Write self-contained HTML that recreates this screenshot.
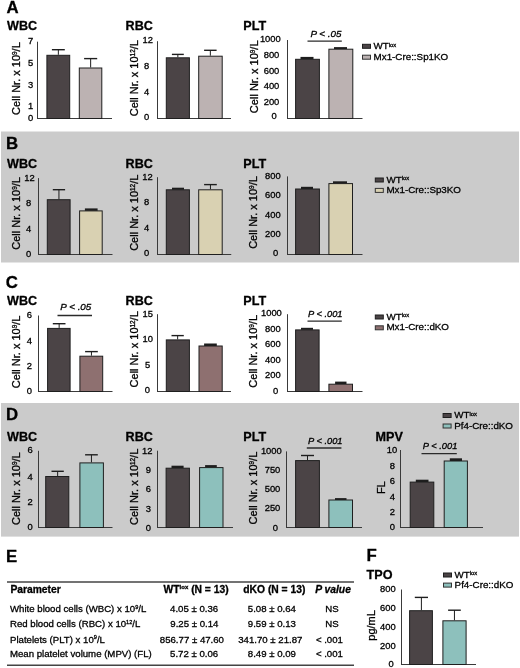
<!DOCTYPE html>
<html><head><meta charset="utf-8"><style>
html,body{margin:0;padding:0;background:#fff;}
svg{display:block;font-family:"Liberation Sans", sans-serif;will-change:transform;}
text{stroke:#000;stroke-width:0.3px;}
</style></head><body>
<svg width="520" height="668" viewBox="0 0 520 668">
<rect x="0" y="0" width="520" height="668" fill="#fff"/>
<rect x="1.00" y="131.50" width="518.00" height="131.00" fill="#cbcbcb"/>
<rect x="1.00" y="403.00" width="518.00" height="133.60" fill="#cbcbcb"/>
<text x="6.6" y="13.2" font-size="16.8" font-weight="bold" >A</text>
<text x="6.0" y="148.7" font-size="16.8" font-weight="bold" >B</text>
<text x="5.8" y="288.1" font-size="16.8" font-weight="bold" >C</text>
<text x="6.0" y="419.9" font-size="16.8" font-weight="bold" >D</text>
<text x="6.0" y="562.2" font-size="16.8" font-weight="bold" >E</text>
<text x="366.5" y="560.9" font-size="16.8" font-weight="bold" >F</text>
<text x="7.0" y="29.8" font-size="12.6" font-weight="bold" >WBC</text>
<text x="125.6" y="29.8" font-size="12.6" font-weight="bold" >RBC</text>
<text x="243.3" y="29.8" font-size="12.6" font-weight="bold" >PLT</text>
<line x1="37.5" y1="41.7" x2="37.5" y2="119.0" stroke="#3a3a3a" stroke-width="1"/>
<line x1="37.0" y1="118.5" x2="112" y2="118.5" stroke="#3a3a3a" stroke-width="1"/>
<text x="30.5" y="44.02" font-size="9.4" text-anchor="middle" >7</text>
<text x="30.5" y="65.72" font-size="9.4" text-anchor="middle" >5</text>
<text x="30.5" y="87.92" font-size="9.4" text-anchor="middle" >3</text>
<text x="30.5" y="109.17" font-size="9.4" text-anchor="middle" >1</text>
<text x="30.5" y="121.12" font-size="9.4" text-anchor="middle" >0</text>
<line x1="58.349999999999994" y1="49.7" x2="58.349999999999994" y2="54.8" stroke="#1e1e1e" stroke-width="1"/>
<line x1="51.9" y1="49.7" x2="64.8" y2="49.7" stroke="#1e1e1e" stroke-width="1.4"/>
<rect x="46.90" y="55.30" width="22.80" height="63.20" fill="#4b4446" stroke="#1e1e1e" stroke-width="1"/>
<line x1="90.65" y1="58.6" x2="90.65" y2="67.5" stroke="#1e1e1e" stroke-width="1"/>
<line x1="84.1" y1="58.6" x2="97.2" y2="58.6" stroke="#1e1e1e" stroke-width="1.4"/>
<rect x="79.30" y="68.00" width="22.50" height="50.50" fill="#bcb2b2" stroke="#1e1e1e" stroke-width="1"/>
<text transform="translate(20.30,78.55) rotate(-90)" font-size="11" text-anchor="middle">Cell Nr. x 10<tspan font-size="6.4" dy="-3.1">9</tspan><tspan dy="3.1">/L</tspan></text>
<line x1="157.5" y1="41.2" x2="157.5" y2="119.0" stroke="#3a3a3a" stroke-width="1"/>
<line x1="157.0" y1="118.5" x2="231" y2="118.5" stroke="#3a3a3a" stroke-width="1"/>
<text x="147.8" y="43.12" font-size="9.4" text-anchor="middle" >12</text>
<text x="146.6" y="68.72" font-size="9.4" text-anchor="middle" >8</text>
<text x="146.6" y="94.72" font-size="9.4" text-anchor="middle" >4</text>
<text x="146.6" y="119.62" font-size="9.4" text-anchor="middle" >0</text>
<line x1="177.85000000000002" y1="54.4" x2="177.85000000000002" y2="57.3" stroke="#1e1e1e" stroke-width="1"/>
<line x1="171.9" y1="54.4" x2="183.8" y2="54.4" stroke="#1e1e1e" stroke-width="1.4"/>
<rect x="166.30" y="57.80" width="23.10" height="60.70" fill="#4b4446" stroke="#1e1e1e" stroke-width="1"/>
<line x1="210.35" y1="50.3" x2="210.35" y2="55.7" stroke="#1e1e1e" stroke-width="1"/>
<line x1="204.1" y1="50.3" x2="216.6" y2="50.3" stroke="#1e1e1e" stroke-width="1.4"/>
<rect x="198.70" y="56.20" width="23.50" height="62.30" fill="#bcb2b2" stroke="#1e1e1e" stroke-width="1"/>
<text transform="translate(137.90,78.2) rotate(-90)" font-size="11" text-anchor="middle">Cell Nr. x 10<tspan font-size="6.4" dy="-3.1">12</tspan><tspan dy="3.1">/L</tspan></text>
<line x1="287.5" y1="40" x2="287.5" y2="119.0" stroke="#3a3a3a" stroke-width="1"/>
<line x1="287.0" y1="118.5" x2="362.5" y2="118.5" stroke="#3a3a3a" stroke-width="1"/>
<text x="270.35" y="42.12" font-size="9.4" text-anchor="middle" >1000</text>
<text x="271.5" y="57.62" font-size="9.4" text-anchor="middle" >800</text>
<text x="271.5" y="73.52" font-size="9.4" text-anchor="middle" >600</text>
<text x="271.5" y="89.27" font-size="9.4" text-anchor="middle" >400</text>
<text x="271.5" y="104.77" font-size="9.4" text-anchor="middle" >200</text>
<text x="274.2" y="119.32" font-size="9.4" text-anchor="middle" >0</text>
<rect x="300.50" y="56.90" width="13.00" height="2.40" fill="#1e1e1e"/>
<rect x="295.60" y="59.30" width="23.80" height="59.20" fill="#4b4446" stroke="#1e1e1e" stroke-width="1"/>
<rect x="334.00" y="47.10" width="13.00" height="2.10" fill="#1e1e1e"/>
<rect x="328.90" y="49.20" width="23.90" height="69.30" fill="#bcb2b2" stroke="#1e1e1e" stroke-width="1"/>
<text transform="translate(257.90,76.8) rotate(-90)" font-size="11" text-anchor="middle">Cell Nr. x 10<tspan font-size="6.4" dy="-3.1">9</tspan><tspan dy="3.1">/L</tspan></text>
<text x="310.4" y="37.4" font-size="9.8" font-style="italic" >P &lt; .05</text>
<line x1="307.5" y1="41.2" x2="341.8" y2="41.2" stroke="#2a2a2a" stroke-width="1.3"/>
<rect x="362.50" y="44.30" width="8.00" height="4.00" fill="#4b4446" stroke="#1e1e1e" stroke-width="1"/>
<rect x="362.50" y="55.20" width="8.00" height="4.00" fill="#bcb2b2" stroke="#333" stroke-width="1"/>
<text x="373.6" y="48.9" font-size="9.8" >WT<tspan font-size="5.8" dy="-2.2">lox</tspan></text>
<text x="373.6" y="59.800000000000004" font-size="9.8" >Mx1-Cre::Sp1KO</text>
<text x="7.0" y="167.5" font-size="12.6" font-weight="bold" >WBC</text>
<text x="125.6" y="167.5" font-size="12.6" font-weight="bold" >RBC</text>
<text x="243.3" y="167.5" font-size="12.6" font-weight="bold" >PLT</text>
<line x1="38.5" y1="178.1" x2="38.5" y2="255.0" stroke="#3a3a3a" stroke-width="1"/>
<line x1="38.0" y1="254.5" x2="112.5" y2="254.5" stroke="#3a3a3a" stroke-width="1"/>
<text x="29.45" y="180.82" font-size="9.4" text-anchor="middle" >12</text>
<text x="28.6" y="206.07" font-size="9.4" text-anchor="middle" >8</text>
<text x="28.6" y="231.67" font-size="9.4" text-anchor="middle" >4</text>
<text x="28.6" y="256.62" font-size="9.4" text-anchor="middle" >0</text>
<line x1="58.949999999999996" y1="189.7" x2="58.949999999999996" y2="199.2" stroke="#1e1e1e" stroke-width="1"/>
<line x1="52.8" y1="189.7" x2="65.1" y2="189.7" stroke="#1e1e1e" stroke-width="1.4"/>
<rect x="47.30" y="199.70" width="22.80" height="54.80" fill="#4b4446" stroke="#1e1e1e" stroke-width="1"/>
<rect x="84.90" y="208.40" width="12.70" height="2.50" fill="#1e1e1e"/>
<rect x="79.60" y="210.90" width="22.60" height="43.60" fill="#d9d1b2" stroke="#1e1e1e" stroke-width="1"/>
<text transform="translate(20.20,213.45) rotate(-90)" font-size="11" text-anchor="middle">Cell Nr. x 10<tspan font-size="6.4" dy="-3.1">9</tspan><tspan dy="3.1">/L</tspan></text>
<line x1="157.5" y1="177.2" x2="157.5" y2="255.0" stroke="#3a3a3a" stroke-width="1"/>
<line x1="157.0" y1="254.5" x2="231.25" y2="254.5" stroke="#3a3a3a" stroke-width="1"/>
<text x="147.45" y="179.87" font-size="9.4" text-anchor="middle" >12</text>
<text x="146.6" y="205.27" font-size="9.4" text-anchor="middle" >8</text>
<text x="146.6" y="231.22" font-size="9.4" text-anchor="middle" >4</text>
<text x="146.6" y="256.07" font-size="9.4" text-anchor="middle" >0</text>
<rect x="172.00" y="187.70" width="12.00" height="2.10" fill="#1e1e1e"/>
<rect x="166.30" y="189.80" width="23.10" height="64.70" fill="#4b4446" stroke="#1e1e1e" stroke-width="1"/>
<line x1="210.45" y1="184.6" x2="210.45" y2="189.3" stroke="#1e1e1e" stroke-width="1"/>
<line x1="204.1" y1="184.6" x2="216.8" y2="184.6" stroke="#1e1e1e" stroke-width="1.4"/>
<rect x="198.70" y="189.80" width="23.50" height="64.70" fill="#d9d1b2" stroke="#1e1e1e" stroke-width="1"/>
<text transform="translate(138.00,212.75) rotate(-90)" font-size="11" text-anchor="middle">Cell Nr. x 10<tspan font-size="6.4" dy="-3.1">12</tspan><tspan dy="3.1">/L</tspan></text>
<line x1="287.5" y1="176.4" x2="287.5" y2="255.0" stroke="#3a3a3a" stroke-width="1"/>
<line x1="287.0" y1="254.5" x2="362.5" y2="254.5" stroke="#3a3a3a" stroke-width="1"/>
<text x="272.85" y="178.52" font-size="9.4" text-anchor="middle" >800</text>
<text x="272.85" y="197.77" font-size="9.4" text-anchor="middle" >600</text>
<text x="272.85" y="217.62" font-size="9.4" text-anchor="middle" >400</text>
<text x="272.85" y="236.87" font-size="9.4" text-anchor="middle" >200</text>
<text x="275.7" y="256.07" font-size="9.4" text-anchor="middle" >0</text>
<rect x="301.00" y="186.80" width="12.00" height="2.20" fill="#1e1e1e"/>
<rect x="295.60" y="189.00" width="23.80" height="65.50" fill="#4b4446" stroke="#1e1e1e" stroke-width="1"/>
<rect x="333.00" y="181.30" width="14.00" height="2.30" fill="#1e1e1e"/>
<rect x="328.90" y="183.60" width="23.60" height="70.90" fill="#d9d1b2" stroke="#1e1e1e" stroke-width="1"/>
<text transform="translate(256.70,212.5) rotate(-90)" font-size="11" text-anchor="middle">Cell Nr. x 10<tspan font-size="6.4" dy="-3.1">9</tspan><tspan dy="3.1">/L</tspan></text>
<rect x="375.30" y="178.00" width="8.00" height="4.00" fill="#4b4446" stroke="#1e1e1e" stroke-width="1"/>
<rect x="375.30" y="188.40" width="8.00" height="4.00" fill="#d9d1b2" stroke="#333" stroke-width="1"/>
<text x="386.40000000000003" y="182.6" font-size="9.8" >WT<tspan font-size="5.8" dy="-2.2">lox</tspan></text>
<text x="386.40000000000003" y="193.0" font-size="9.8" >Mx1-Cre::Sp3KO</text>
<text x="7.0" y="304.6" font-size="12.6" font-weight="bold" >WBC</text>
<text x="125.6" y="304.6" font-size="12.6" font-weight="bold" >RBC</text>
<text x="243.3" y="304.6" font-size="12.6" font-weight="bold" >PLT</text>
<line x1="38.5" y1="315.5" x2="38.5" y2="392.0" stroke="#3a3a3a" stroke-width="1"/>
<line x1="38.0" y1="391.5" x2="112.5" y2="391.5" stroke="#3a3a3a" stroke-width="1"/>
<text x="29.4" y="317.82" font-size="9.4" text-anchor="middle" >6</text>
<text x="29.4" y="343.72" font-size="9.4" text-anchor="middle" >4</text>
<text x="29.4" y="369.02" font-size="9.4" text-anchor="middle" >2</text>
<text x="29.4" y="393.92" font-size="9.4" text-anchor="middle" >0</text>
<line x1="59.15" y1="323.7" x2="59.15" y2="327.9" stroke="#1e1e1e" stroke-width="1"/>
<line x1="52.8" y1="323.7" x2="65.5" y2="323.7" stroke="#1e1e1e" stroke-width="1.4"/>
<rect x="47.60" y="328.40" width="22.50" height="63.10" fill="#4b4446" stroke="#1e1e1e" stroke-width="1"/>
<line x1="91.44999999999999" y1="351.6" x2="91.44999999999999" y2="355.7" stroke="#1e1e1e" stroke-width="1"/>
<line x1="85.1" y1="351.6" x2="97.8" y2="351.6" stroke="#1e1e1e" stroke-width="1.4"/>
<rect x="79.90" y="356.20" width="22.80" height="35.30" fill="#8e7070" stroke="#1e1e1e" stroke-width="1"/>
<text transform="translate(20.30,351.85) rotate(-90)" font-size="11" text-anchor="middle">Cell Nr. x 10<tspan font-size="6.4" dy="-3.1">9</tspan><tspan dy="3.1">/L</tspan></text>
<text x="60.3" y="310.3" font-size="9.8" font-style="italic" >P &lt; .05</text>
<line x1="57.5" y1="315.5" x2="92.0" y2="315.5" stroke="#2a2a2a" stroke-width="1.3"/>
<line x1="157.5" y1="314.2" x2="157.5" y2="392.0" stroke="#3a3a3a" stroke-width="1"/>
<line x1="157.0" y1="391.5" x2="231" y2="391.5" stroke="#3a3a3a" stroke-width="1"/>
<text x="147.65" y="316.67" font-size="9.4" text-anchor="middle" >15</text>
<text x="147.65" y="342.47" font-size="9.4" text-anchor="middle" >10</text>
<text x="147.6" y="368.22" font-size="9.4" text-anchor="middle" >5</text>
<text x="147.4" y="393.27" font-size="9.4" text-anchor="middle" >0</text>
<line x1="177.65" y1="335.6" x2="177.65" y2="339.4" stroke="#1e1e1e" stroke-width="1"/>
<line x1="171.5" y1="335.6" x2="183.8" y2="335.6" stroke="#1e1e1e" stroke-width="1.4"/>
<rect x="166.30" y="339.90" width="23.10" height="51.60" fill="#4b4446" stroke="#1e1e1e" stroke-width="1"/>
<rect x="204.10" y="343.50" width="12.70" height="2.50" fill="#1e1e1e"/>
<rect x="199.00" y="346.00" width="23.20" height="45.50" fill="#8e7070" stroke="#1e1e1e" stroke-width="1"/>
<text transform="translate(138.00,349.3) rotate(-90)" font-size="11" text-anchor="middle">Cell Nr. x 10<tspan font-size="6.4" dy="-3.1">12</tspan><tspan dy="3.1">/L</tspan></text>
<line x1="287.5" y1="314.2" x2="287.5" y2="392.0" stroke="#3a3a3a" stroke-width="1"/>
<line x1="287.0" y1="391.5" x2="362.5" y2="391.5" stroke="#3a3a3a" stroke-width="1"/>
<text x="271.4" y="315.77" font-size="9.4" text-anchor="middle" >1000</text>
<text x="272.85" y="331.72" font-size="9.4" text-anchor="middle" >800</text>
<text x="272.85" y="346.92" font-size="9.4" text-anchor="middle" >600</text>
<text x="272.85" y="362.67" font-size="9.4" text-anchor="middle" >400</text>
<text x="272.85" y="378.47" font-size="9.4" text-anchor="middle" >200</text>
<text x="275.7" y="393.52" font-size="9.4" text-anchor="middle" >0</text>
<rect x="301.00" y="327.80" width="12.00" height="2.10" fill="#1e1e1e"/>
<rect x="295.60" y="329.90" width="23.50" height="61.60" fill="#4b4446" stroke="#1e1e1e" stroke-width="1"/>
<rect x="335.10" y="381.60" width="11.40" height="2.60" fill="#1e1e1e"/>
<rect x="328.90" y="384.20" width="23.60" height="7.30" fill="#8e7070" stroke="#1e1e1e" stroke-width="1"/>
<text transform="translate(257.20,351.3) rotate(-90)" font-size="11" text-anchor="middle">Cell Nr. x 10<tspan font-size="6.4" dy="-3.1">9</tspan><tspan dy="3.1">/L</tspan></text>
<text x="308.0" y="317.3" font-size="9.3" font-style="italic" >P &lt; .001</text>
<line x1="307.5" y1="321.2" x2="341.8" y2="321.2" stroke="#2a2a2a" stroke-width="1.3"/>
<rect x="375.30" y="315.00" width="8.00" height="4.00" fill="#4b4446" stroke="#1e1e1e" stroke-width="1"/>
<rect x="375.30" y="325.80" width="8.00" height="4.00" fill="#8e7070" stroke="#333" stroke-width="1"/>
<text x="386.40000000000003" y="319.6" font-size="9.8" >WT<tspan font-size="5.8" dy="-2.2">lox</tspan></text>
<text x="386.40000000000003" y="330.40000000000003" font-size="9.8" >Mx1-Cre::dKO</text>
<text x="7.0" y="441.2" font-size="12.6" font-weight="bold" >WBC</text>
<text x="125.6" y="441.2" font-size="12.6" font-weight="bold" >RBC</text>
<text x="243.3" y="441.2" font-size="12.6" font-weight="bold" >PLT</text>
<text x="375.6" y="441.2" font-size="12.6" font-weight="bold" >MPV</text>
<line x1="38.5" y1="450.8" x2="38.5" y2="528.0" stroke="#3a3a3a" stroke-width="1"/>
<line x1="38.0" y1="527.5" x2="112.5" y2="527.5" stroke="#3a3a3a" stroke-width="1"/>
<text x="30.1" y="453.47" font-size="9.4" text-anchor="middle" >6</text>
<text x="30.1" y="479.57" font-size="9.4" text-anchor="middle" >4</text>
<text x="30.1" y="505.37" font-size="9.4" text-anchor="middle" >2</text>
<text x="30.1" y="530.17" font-size="9.4" text-anchor="middle" >0</text>
<line x1="57.65" y1="471.3" x2="57.65" y2="476" stroke="#1e1e1e" stroke-width="1"/>
<line x1="51.5" y1="471.3" x2="63.8" y2="471.3" stroke="#1e1e1e" stroke-width="1.4"/>
<rect x="45.70" y="476.50" width="23.10" height="51.00" fill="#4b4446" stroke="#1e1e1e" stroke-width="1"/>
<line x1="91.44999999999999" y1="454.8" x2="91.44999999999999" y2="462.4" stroke="#1e1e1e" stroke-width="1"/>
<line x1="85.1" y1="454.8" x2="97.8" y2="454.8" stroke="#1e1e1e" stroke-width="1.4"/>
<rect x="79.90" y="462.90" width="23.50" height="64.60" fill="#8dc0bc" stroke="#1e1e1e" stroke-width="1"/>
<text transform="translate(20.20,488.65) rotate(-90)" font-size="11" text-anchor="middle">Cell Nr. x 10<tspan font-size="6.4" dy="-3.1">9</tspan><tspan dy="3.1">/L</tspan></text>
<line x1="157.5" y1="450.7" x2="157.5" y2="528.0" stroke="#3a3a3a" stroke-width="1"/>
<line x1="157.0" y1="527.5" x2="233" y2="527.5" stroke="#3a3a3a" stroke-width="1"/>
<text x="147.25" y="453.67" font-size="9.4" text-anchor="middle" >12</text>
<text x="148.3" y="473.02" font-size="9.4" text-anchor="middle" >9</text>
<text x="148.3" y="492.42" font-size="9.4" text-anchor="middle" >6</text>
<text x="148.3" y="511.82" font-size="9.4" text-anchor="middle" >3</text>
<text x="148.3" y="531.17" font-size="9.4" text-anchor="middle" >0</text>
<rect x="171.50" y="465.70" width="12.10" height="2.50" fill="#1e1e1e"/>
<rect x="166.10" y="468.20" width="23.30" height="59.30" fill="#4b4446" stroke="#1e1e1e" stroke-width="1"/>
<rect x="205.10" y="465.10" width="11.70" height="2.50" fill="#1e1e1e"/>
<rect x="199.60" y="467.60" width="23.40" height="59.90" fill="#8dc0bc" stroke="#1e1e1e" stroke-width="1"/>
<text transform="translate(138.00,486.8) rotate(-90)" font-size="11" text-anchor="middle">Cell Nr. x 10<tspan font-size="6.4" dy="-3.1">12</tspan><tspan dy="3.1">/L</tspan></text>
<line x1="286.5" y1="451.4" x2="286.5" y2="528.0" stroke="#3a3a3a" stroke-width="1"/>
<line x1="286.0" y1="527.5" x2="362" y2="527.5" stroke="#3a3a3a" stroke-width="1"/>
<text x="271.35" y="453.67" font-size="9.4" text-anchor="middle" >1000</text>
<text x="272.5" y="472.87" font-size="9.4" text-anchor="middle" >750</text>
<text x="272.5" y="492.27" font-size="9.4" text-anchor="middle" >500</text>
<text x="272.5" y="511.42" font-size="9.4" text-anchor="middle" >250</text>
<text x="275.3" y="530.72" font-size="9.4" text-anchor="middle" >0</text>
<line x1="307.5" y1="455.5" x2="307.5" y2="460.1" stroke="#1e1e1e" stroke-width="1"/>
<line x1="301" y1="455.5" x2="314" y2="455.5" stroke="#1e1e1e" stroke-width="1.4"/>
<rect x="295.60" y="460.60" width="23.80" height="66.90" fill="#4b4446" stroke="#1e1e1e" stroke-width="1"/>
<rect x="335.00" y="498.10" width="11.50" height="1.90" fill="#1e1e1e"/>
<rect x="328.90" y="500.00" width="23.60" height="27.50" fill="#8dc0bc" stroke="#1e1e1e" stroke-width="1"/>
<text transform="translate(256.70,488.05) rotate(-90)" font-size="11" text-anchor="middle">Cell Nr. x 10<tspan font-size="6.4" dy="-3.1">9</tspan><tspan dy="3.1">/L</tspan></text>
<text x="308.0" y="443.6" font-size="9.3" font-style="italic" >P &lt; .001</text>
<line x1="306.8" y1="448.0" x2="341.4" y2="448.0" stroke="#2a2a2a" stroke-width="1.3"/>
<line x1="400.5" y1="450" x2="400.5" y2="528.0" stroke="#3a3a3a" stroke-width="1"/>
<line x1="400.0" y1="527.5" x2="483" y2="527.5" stroke="#3a3a3a" stroke-width="1"/>
<text x="391.9" y="453.12" font-size="9.4" text-anchor="middle" >10</text>
<text x="392.4" y="468.82" font-size="9.4" text-anchor="middle" >8</text>
<text x="392.4" y="484.27" font-size="9.4" text-anchor="middle" >6</text>
<text x="392.4" y="499.77" font-size="9.4" text-anchor="middle" >4</text>
<text x="392.4" y="515.22" font-size="9.4" text-anchor="middle" >2</text>
<text x="392.4" y="530.47" font-size="9.4" text-anchor="middle" >0</text>
<rect x="415.80" y="479.70" width="12.70" height="2.40" fill="#1e1e1e"/>
<rect x="410.20" y="482.10" width="23.60" height="45.40" fill="#4b4446" stroke="#1e1e1e" stroke-width="1"/>
<rect x="449.80" y="458.30" width="12.20" height="2.70" fill="#1e1e1e"/>
<rect x="444.20" y="461.00" width="23.20" height="66.50" fill="#8dc0bc" stroke="#1e1e1e" stroke-width="1"/>
<text transform="translate(384.70,487.7) rotate(-90)" font-size="11" text-anchor="middle">FL</text>
<text x="422.8" y="448.7" font-size="9.3" font-style="italic" >P &lt; .001</text>
<line x1="421.5" y1="453.6" x2="456.8" y2="453.6" stroke="#2a2a2a" stroke-width="1.3"/>
<rect x="443.10" y="413.50" width="8.00" height="4.00" fill="#4b4446" stroke="#1e1e1e" stroke-width="1"/>
<rect x="443.10" y="424.00" width="8.00" height="4.00" fill="#8dc0bc" stroke="#333" stroke-width="1"/>
<text x="454.20000000000005" y="418.1" font-size="9.8" >WT<tspan font-size="5.8" dy="-2.2">lox</tspan></text>
<text x="454.20000000000005" y="428.6" font-size="9.8" >Pf4-Cre::dKO</text>
<text x="366.6" y="579.4" font-size="12.6" font-weight="bold" >TPO</text>
<line x1="401.5" y1="589.5" x2="401.5" y2="665.0" stroke="#3a3a3a" stroke-width="1"/>
<line x1="401.0" y1="664.5" x2="476" y2="664.5" stroke="#3a3a3a" stroke-width="1"/>
<text x="387.9" y="592.17" font-size="9.4" text-anchor="middle" >800</text>
<text x="387.9" y="611.02" font-size="9.4" text-anchor="middle" >600</text>
<text x="387.9" y="629.87" font-size="9.4" text-anchor="middle" >400</text>
<text x="387.9" y="648.77" font-size="9.4" text-anchor="middle" >200</text>
<text x="391.1" y="666.67" font-size="9.4" text-anchor="middle" >0</text>
<line x1="421.4" y1="597.4" x2="421.4" y2="610.2" stroke="#1e1e1e" stroke-width="1"/>
<line x1="414.8" y1="597.4" x2="428" y2="597.4" stroke="#1e1e1e" stroke-width="1.4"/>
<rect x="409.60" y="610.70" width="22.80" height="53.80" fill="#4b4446" stroke="#1e1e1e" stroke-width="1"/>
<line x1="454.45000000000005" y1="610.2" x2="454.45000000000005" y2="620.3" stroke="#1e1e1e" stroke-width="1"/>
<line x1="448.1" y1="610.2" x2="460.8" y2="610.2" stroke="#1e1e1e" stroke-width="1.4"/>
<rect x="442.90" y="620.80" width="23.20" height="43.70" fill="#8dc0bc" stroke="#1e1e1e" stroke-width="1"/>
<text transform="translate(374.70,625.4) rotate(-90)" font-size="11" text-anchor="middle">pg/mL</text>
<rect x="443.50" y="573.00" width="8.00" height="4.00" fill="#4b4446" stroke="#1e1e1e" stroke-width="1"/>
<rect x="443.50" y="583.10" width="8.00" height="4.00" fill="#8dc0bc" stroke="#333" stroke-width="1"/>
<text x="454.6" y="577.6" font-size="9.8" >WT<tspan font-size="5.8" dy="-2.2">lox</tspan></text>
<text x="454.6" y="587.7" font-size="9.8" >Pf4-Cre::dKO</text>
<line x1="7" y1="582" x2="354" y2="582" stroke="#444" stroke-width="1.7"/>
<line x1="7" y1="665.2" x2="354" y2="665.2" stroke="#444" stroke-width="1.6"/>
<text x="10.4" y="593.1" font-size="10.3" font-weight="bold" >Parameter</text>
<text x="163.6" y="593.1" font-size="10.3" font-weight="bold" >WT<tspan font-size="6" dy="-3.8">lox</tspan><tspan dy="3.8"> (N = 13)</tspan></text>
<text x="243.3" y="593.1" font-size="10.3" font-weight="bold" >dKO (N = 13)</text>
<text x="315.2" y="593.1" font-size="10.3" font-weight="bold" font-style="italic" >P value</text>
<text x="10.0" y="612.1" font-size="9.65" >White blood cells (WBC) x 10<tspan font-size="5.6" dy="-3.1">9</tspan><tspan dy="3.1">/L</tspan></text>
<text x="194.1" y="612.1" font-size="9.65" text-anchor="middle" >4.05 ± 0.36</text>
<text x="271.9" y="612.1" font-size="9.65" text-anchor="middle" >5.08 ± 0.64</text>
<text x="332.0" y="612.1" font-size="9.65" text-anchor="middle" >NS</text>
<text x="10.0" y="627.3" font-size="9.65" >Red blood cells (RBC) x 10<tspan font-size="5.6" dy="-3.1">12</tspan><tspan dy="3.1">/L</tspan></text>
<text x="194.4" y="627.3" font-size="9.65" text-anchor="middle" >9.25 ± 0.14</text>
<text x="271.9" y="627.3" font-size="9.65" text-anchor="middle" >9.59 ± 0.13</text>
<text x="332.0" y="627.3" font-size="9.65" text-anchor="middle" >NS</text>
<text x="10.0" y="642.5" font-size="9.65" >Platelets (PLT) x 10<tspan font-size="5.6" dy="-3.1">9</tspan><tspan dy="3.1">/L</tspan></text>
<text x="191.9" y="642.5" font-size="9.65" text-anchor="middle" >856.77 ± 47.60</text>
<text x="270.3" y="642.5" font-size="9.65" text-anchor="middle" >341.70 ± 21.87</text>
<text x="329.4" y="642.5" font-size="9.65" text-anchor="middle" >&lt; .001</text>
<text x="10.0" y="657.3" font-size="9.65" >Mean platelet volume (MPV) (FL)</text>
<text x="194.1" y="657.3" font-size="9.65" text-anchor="middle" >5.72 ± 0.06</text>
<text x="271.9" y="657.3" font-size="9.65" text-anchor="middle" >8.49 ± 0.09</text>
<text x="329.4" y="657.3" font-size="9.65" text-anchor="middle" >&lt; .001</text>
</svg>
</body></html>
